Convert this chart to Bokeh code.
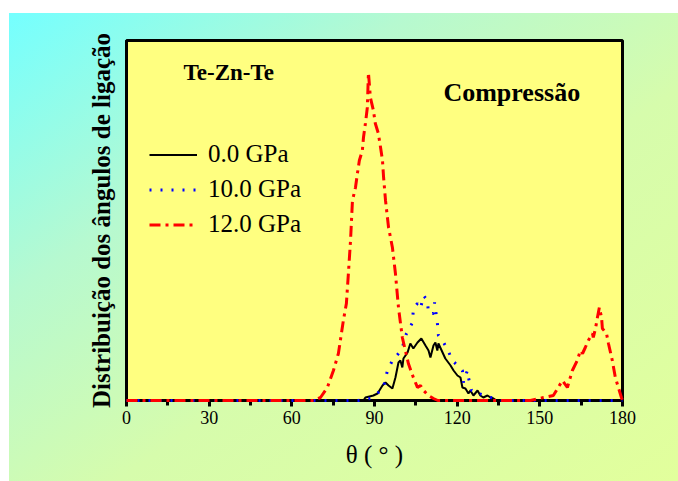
from bokeh.plotting import figure
from bokeh.models import Range1d, FixedTicker, Label, Legend
from bokeh.embed import file_html
from bokeh.resources import INLINE

# Bond-angle distribution Te-Zn-Te under compression (arbitrary units)
theta_0gpa = [0, 86.0, 86.7, 89.6, 91.1, 92.9, 94.0, 95.1, 96.5, 97.6, 98.7, 99.4,
              100.1, 100.5, 102.0, 103.0, 104.1, 105.6, 107.0, 108.5, 109.6, 110.3,
              111.4, 112.1, 112.8, 113.2, 114.7, 115.7, 117.6, 118.7, 120.1, 121.2,
              121.9, 123.0, 124.1, 124.8, 125.9, 127.4, 128.4, 129.5, 131.0, 132.1,
              133.2, 134.3, 180]
dist_0gpa = [0, 0, 0.03, 0.05, 0.07, 0.15, 0.18, 0.15, 0.12, 0.23, 0.38, 0.40,
             0.33, 0.42, 0.48, 0.57, 0.52, 0.58, 0.62, 0.55, 0.50, 0.43,
             0.55, 0.58, 0.50, 0.57, 0.48, 0.42, 0.35, 0.30, 0.25, 0.23,
             0.13, 0.12, 0.07, 0.10, 0.05, 0.10, 0.05, 0.03, 0.05, 0.03,
             0.02, 0, 0]

theta_10gpa = [0, 84.2, 88.5, 91.4, 93.3, 94.7, 96.5, 98.7, 100.1, 101.6, 103.8,
               104.1, 105.6, 106.7, 107.8, 109.2, 109.6, 111.4, 111.8, 112.8, 113.2,
               114.7, 116.5, 118.3, 120.1, 121.9, 122.3, 123.7, 124.1, 125.2, 126.6,
               127.7, 130.3, 133.2, 135.7, 180]
dist_10gpa = [0, 0, 0.02, 0.08, 0.14, 0.30, 0.40, 0.47, 0.53, 0.67, 0.78,
              0.92, 0.97, 0.92, 1.05, 1.00, 0.87, 0.87, 0.98, 0.78, 0.65,
              0.60, 0.51, 0.40, 0.35, 0.30, 0.18, 0.30, 0.23, 0.10, 0.10,
              0.07, 0.05, 0.02, 0, 0]

theta_12gpa = [0, 67.9, 70.4, 72.9, 75.1, 76.9, 78.7, 79.8, 80.6, 81.3, 82.0, 83.1,
               83.8, 84.5, 85.6, 86.0, 86.7, 87.4, 87.8, 88.5, 89.6, 90.3, 91.4,
               92.2, 92.9, 93.3, 94.0, 95.1, 96.5, 97.6, 98.7, 100.1, 101.2, 102.3,
               104.1, 105.6, 106.7, 107.8, 109.6, 111.4, 113.0,
               146.6, 151.3, 154.9, 158.2, 160.0, 161.8, 163.6, 164.7, 165.5, 166.5,
               167.6, 169.1, 169.4, 170.2, 170.9, 171.6, 172.4, 172.7, 174.2, 174.9,
               176.3, 177.4, 178.5, 179.6, 180]
dist_12gpa = [0, 0, 0.03, 0.13, 0.30, 0.47, 0.80, 0.97, 1.30, 1.60, 2.00, 2.13,
              2.27, 2.40, 2.50, 2.63, 2.77, 2.93, 3.28, 3.03, 2.90, 2.77, 2.67,
              2.53, 2.40, 2.23, 2.00, 1.73, 1.53, 1.27, 0.93, 0.63, 0.50, 0.37,
              0.23, 0.13, 0.15, 0.10, 0.05, 0.02, 0,
              0, 0.03, 0.05, 0.20, 0.13, 0.30, 0.40, 0.50, 0.47, 0.53,
              0.60, 0.67, 0.63, 0.72, 0.83, 0.93, 0.83, 0.72, 0.67, 0.57,
              0.40, 0.23, 0.13, 0.03, 0]

x_ticks = [0, 30, 60, 90, 120, 150, 180]
x_minor_ticks = [15, 45, 75, 105, 135, 165]

SERIF = "Liberation Serif"

p = figure(width=678, height=481, output_backend="svg", toolbar_location=None,
           x_range=Range1d(0, 180), y_range=Range1d(0, 3.6),
           min_border_left=126, min_border_right=56, min_border_top=40,
           min_border_bottom=81)

p.styles = {
    "background": "linear-gradient(to bottom right, #74ffff 0%, #b6f9d0 30%, "
                  "#d6fcac 58%, #e2ff9c 100%) 9px 13px / 669px 468px no-repeat, #ffffff",
}
p.border_fill_color = None
p.background_fill_color = "#ffff80"
p.outline_line_color = "black"
p.outline_line_width = 3
p.grid.visible = False

# x axis
xa = p.xaxis[0]
xa.ticker = FixedTicker(ticks=x_ticks, minor_ticks=x_minor_ticks)
xa.axis_line_width = 3
xa.major_tick_in = 0
xa.major_tick_out = 6
xa.major_tick_line_width = 3
xa.minor_tick_in = 0
xa.minor_tick_out = 5
xa.minor_tick_line_width = 3
xa.major_label_text_font = SERIF
xa.major_label_text_font_size = "18px"
xa.major_label_text_color = "black"
xa.major_label_standoff = 4
xa.axis_label = "θ ( ° )"
xa.axis_label_text_font = SERIF
xa.axis_label_text_font_size = "25px"
xa.axis_label_text_font_style = "normal"
xa.axis_label_text_color = "black"
xa.axis_label_standoff = 14

# y axis: label only
ya = p.yaxis[0]
ya.ticker = FixedTicker(ticks=[], minor_ticks=[])
ya.axis_line_width = 3
ya.major_tick_out = 0
ya.major_tick_in = 0
ya.major_label_standoff = 0
ya.axis_label = "Distribuição dos ângulos de ligação"
ya.axis_label_text_font = SERIF
ya.axis_label_text_font_size = "25px"
ya.axis_label_text_font_style = "bold"
ya.axis_label_text_color = "black"
ya.axis_label_standoff = 12

r0 = p.line(theta_0gpa, dist_0gpa, line_color="black", line_width=2,
            level="overlay")
r10 = p.line(theta_10gpa, dist_10gpa, line_color="#0000ff", line_width=3,
             line_dash="2 9", level="overlay")
r12 = p.line(theta_12gpa, dist_12gpa, line_color="#ff0000", line_width=3,
             line_dash="11 5 3 5", level="overlay")

legend = Legend(items=[("0.0 GPa", [r0]), ("10.0 GPa", [r10]), ("12.0 GPa", [r12])],
                location=(23, 162), padding=0, margin=0, spacing=7,
                glyph_width=48, glyph_height=25, label_height=25,
                label_standoff=11, label_text_font=SERIF,
                label_text_font_size="25px", label_text_color="black",
                background_fill_alpha=0, border_line_alpha=0)
p.add_layout(legend)

p.add_layout(Label(x=20.7, y=3.28, text="Te-Zn-Te", text_font=SERIF,
                   text_font_size="23px", text_font_style="bold",
                   text_color="black", text_baseline="middle"))
p.add_layout(Label(x=115.0, y=3.08, text="Compressão", text_font=SERIF,
                   text_font_size="26px", text_font_style="bold",
                   text_color="black", text_baseline="middle"))

open("out.html", "w").write(file_html(p, INLINE))
